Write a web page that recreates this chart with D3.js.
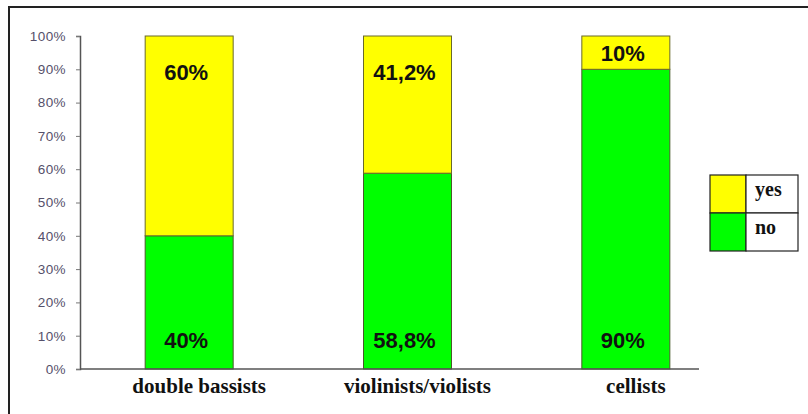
<!DOCTYPE html>
<html><head><meta charset="utf-8">
<script src="https://cdn.jsdelivr.net/npm/d3@7"></script>
<style>body{margin:0;background:#fff}svg{display:block}</style>
</head><body>
<script>
const categories = ["double bassists", "violinists/violists", "cellists"];
const noValues = [40, 58.8, 90];
const yesValues = [60, 41.2, 10];
const noLabels = ["40%", "58,8%", "90%"];
const yesLabels = ["60%", "41,2%", "10%"];
const yTicks = [0,10,20,30,40,50,60,70,80,90,100];
const seriesNames = ["yes", "no"];
const seriesColors = ["#ffff00", "#00ff00"];

const W = 808, H = 414;
const svg = d3.select("body").append("svg").attr("width", W).attr("height", H);

// frame
svg.append("line").attr("x1", 8).attr("x2", W).attr("y1", 7).attr("y2", 7).attr("stroke", "#222").attr("stroke-width", 2);
svg.append("line").attr("x1", 9).attr("x2", 9).attr("y1", 7).attr("y2", H).attr("stroke", "#222").attr("stroke-width", 2);

const y = d3.scaleLinear().domain([0, 100]).range([369, 36]);
const x = d3.scaleBand().domain(categories).range([80, 735]).paddingInner(0.6).paddingOuter(0.3);

// y axis
const yAxis = d3.axisLeft(y).tickValues(yTicks).tickFormat(d => d + "%").tickSize(4).tickPadding(10);
const gy = svg.append("g").attr("transform", "translate(80,0)").call(yAxis);
gy.select(".domain").attr("stroke", "#555").attr("stroke-width", 1.5);
gy.selectAll(".tick line").attr("stroke", "#777");
gy.selectAll(".tick text").attr("font-family", "Arial, 'Liberation Sans', sans-serif").attr("font-size", 13.5)
  .attr("letter-spacing", 0.4).attr("fill", "#55506a");

// bars
const bw = 88;
const bars = svg.append("g");
categories.forEach((c, i) => {
  const cx = x(c) + x.bandwidth() / 2;
  bars.append("rect").attr("x", cx - bw/2).attr("width", bw)
    .attr("y", y(noValues[i])).attr("height", y(0) - y(noValues[i]))
    .attr("fill", seriesColors[1]).attr("stroke", "#4a5a2a").attr("stroke-width", 1);
  bars.append("rect").attr("x", cx - bw/2).attr("width", bw)
    .attr("y", y(noValues[i] + yesValues[i])).attr("height", y(noValues[i]) - y(noValues[i] + yesValues[i]))
    .attr("fill", seriesColors[0]).attr("stroke", "#6a6a2a").attr("stroke-width", 1);
  const topY = Math.min(y(100) + 44, (y(100) + y(noValues[i])) / 2 + 8);
  svg.append("text").attr("x", cx - 3).attr("y", topY).attr("text-anchor", "middle")
    .attr("font-family", "Arial, 'Liberation Sans', sans-serif").attr("font-weight", "bold").attr("font-size", 22)
    .attr("fill", "#111").text(yesLabels[i]);
  svg.append("text").attr("x", cx - 3).attr("y", y(0) - 21).attr("text-anchor", "middle")
    .attr("font-family", "Arial, 'Liberation Sans', sans-serif").attr("font-weight", "bold").attr("font-size", 22)
    .attr("fill", "#111").text(noLabels[i]);
  svg.append("text").attr("x", cx + 10).attr("y", 393).attr("text-anchor", "middle")
    .attr("font-family", "'Liberation Serif', 'Times New Roman', serif").attr("font-weight", "bold").attr("font-size", 21)
    .attr("fill", "#111").text(c);
});

// x axis line
svg.append("line").attr("x1", 80).attr("x2", 699).attr("y1", y(0)).attr("y2", y(0)).attr("stroke", "#555").attr("stroke-width", 1.5);

// legend
const lg = svg.append("g").attr("transform", "translate(710,175)");
seriesNames.forEach((s, i) => {
  lg.append("rect").attr("x", 0).attr("y", i * 38).attr("width", 36).attr("height", 38)
    .attr("fill", seriesColors[i]).attr("stroke", "#222").attr("stroke-width", 1.2);
  lg.append("rect").attr("x", 36).attr("y", i * 38).attr("width", 52).attr("height", 38)
    .attr("fill", "#fff").attr("stroke", "#222").attr("stroke-width", 1.2);
  lg.append("text").attr("x", 45).attr("y", i * 38 + 21).attr("font-family", "'Liberation Serif', 'Times New Roman', serif")
    .attr("font-weight", "bold").attr("font-size", 20).attr("fill", "#111").text(s);
});
</script>
</body></html>
